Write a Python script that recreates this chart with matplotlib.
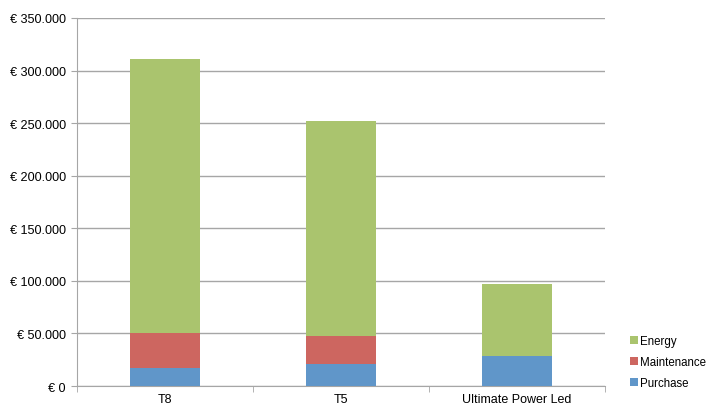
import numpy as np
import matplotlib.pyplot as plt
from matplotlib.ticker import FuncFormatter, FixedLocator

plt.rcParams['font.family'] = ['Liberation Sans', 'DejaVu Sans']

categories = ["T8", "T5", "Ultimate Power Led"]
purchase = [17000, 21000, 28500]
maintenance = [33800, 26500, 0]
energy = [260200, 204500, 68500]

col_purchase = "#6096C9"
col_maint = "#CD6660"
col_energy = "#AAC46E"

fig = plt.figure(figsize=(7.16, 4.10), dpi=100)
ax = fig.add_axes([0.1075, 0.056, 0.7375, 0.8977])

x = np.arange(len(categories))
w = 0.4
p = np.array(purchase)
m = np.array(maintenance)
e = np.array(energy)
ax.bar(x, p, w, color=col_purchase, label="Purchase", zorder=3)
ax.bar(x, m, w, bottom=p, color=col_maint, label="Maintenance", zorder=3)
ax.bar(x, e, w, bottom=p + m, color=col_energy, label="Energy", zorder=3)

ax.set_xlim(-0.5, len(categories) - 0.5)
ax.set_ylim(0, 350000)
ax.set_yticks(np.arange(0, 350001, 50000))
ax.yaxis.set_major_formatter(FuncFormatter(
    lambda v, pos: "€ 0" if v == 0 else "€ " + f"{int(v):,}".replace(",", ".")))
ax.yaxis.grid(True, color="#A6A6A6", linewidth=1, zorder=0)

ax.set_xticks(x)
ax.set_xticklabels(categories)
ax.xaxis.set_minor_locator(FixedLocator(np.arange(-0.5, len(categories), 1)))
ax.tick_params(axis='x', which='major', length=0, pad=5, labelsize=9)
ax.tick_params(axis='x', which='minor', length=4, color="#A6A6A6", direction='out')
ax.tick_params(axis='y', length=4, color="#A6A6A6", labelsize=9.1, pad=4)

for s in ["top", "right"]:
    ax.spines[s].set_visible(False)
for s in ["left", "bottom"]:
    ax.spines[s].set_color("#A6A6A6")

h, l = ax.get_legend_handles_labels()
fig.legend(h[::-1], l[::-1], loc="upper left", bbox_to_anchor=(0.872, 0.195),
           frameon=False, fontsize=8.3, handlelength=0.65, handleheight=0.65,
           handletextpad=0.2, labelspacing=0.78, borderpad=0)

fig.savefig("out.png", dpi=100)
